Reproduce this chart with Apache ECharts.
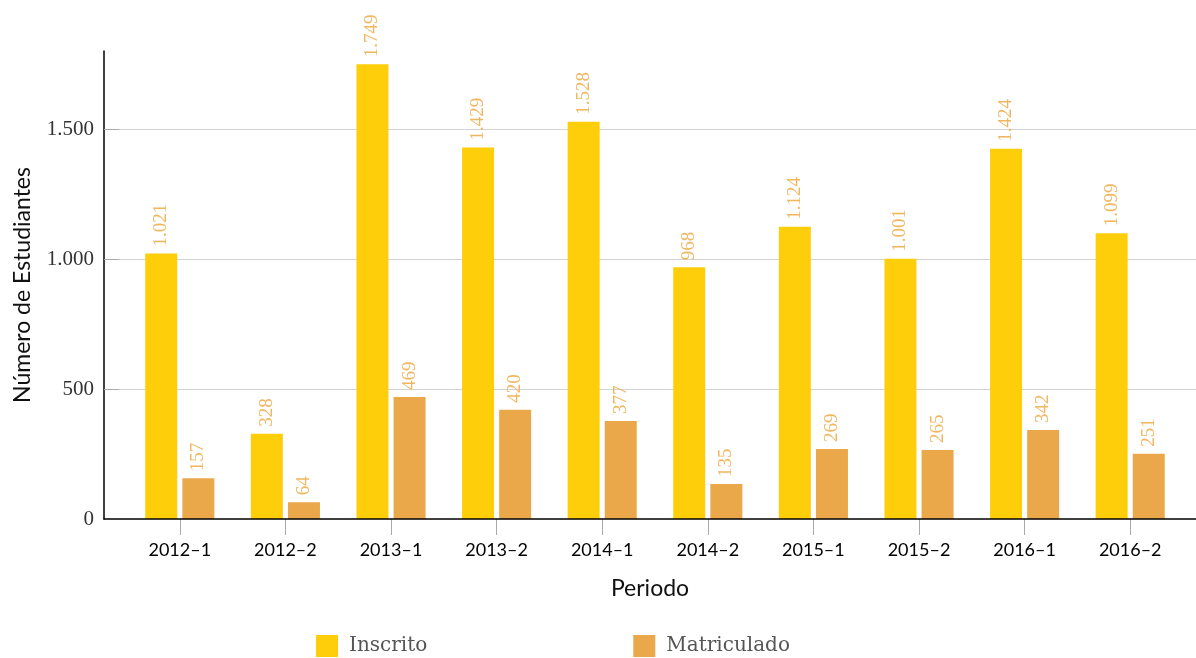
<!DOCTYPE html>
<html>
<head>
<meta charset="utf-8">
<script src="https://cdn.jsdelivr.net/npm/echarts@6/dist/echarts.min.js"></script>
<style>html,body{margin:0;padding:0;background:#fff}#c{width:1196px;height:658px}</style>
</head>
<body>
<div id="c"></div>
<script>
var categories = ['2012–1','2012–2','2013–1','2013–2','2014–1','2014–2','2015–1','2015–2','2016–1','2016–2'];
var inscrito = [1021, 328, 1749, 1429, 1528, 968, 1124, 1001, 1424, 1099];
var matriculado = [157, 64, 469, 420, 377, 135, 269, 265, 342, 251];
var yTicks = [0, 500, 1000, 1500];
var yMax = 1800;

function fmt(v){ return String(v).replace(/\B(?=(\d{3})+(?!\d))/g, '.'); }

var chart = echarts.init(document.getElementById('c'));
var labelStyle = {
  show: true, position: 'top', rotate: 90, align: 'left', verticalAlign: 'middle',
  distance: 7, color: '#F0B760', fontFamily: 'Liberation Serif', fontSize: 19,
  formatter: function(p){ return fmt(p.value); }
};
chart.setOption({
  animation: false,
  grid: [
    {left: 104, right: 0, top: 51, bottom: 139},
    {left: 127, right: 13, top: 51, bottom: 139}
  ],
  xAxis: [
    {type: 'value', gridIndex: 0, min: 0, max: 1, show: true, z: 5,
     axisLine: {show: true, onZero: false, lineStyle: {color: '#000', width: 1.5}},
     axisTick: {show: false}, axisLabel: {show: false}, splitLine: {show: false},
     name: 'Periodo', nameLocation: 'middle', nameGap: 58,
     nameTextStyle: {fontFamily: 'Lato', fontSize: 23, color: '#111'}},
    {type: 'category', gridIndex: 1, data: categories,
     axisLine: {show: false},
     axisTick: {show: true, alignWithLabel: true, length: 16, lineStyle: {color: '#aaa'}},
     axisLabel: {fontFamily: 'Lato', fontSize: 18, color: '#000', margin: 22}}
  ],
  yAxis: [
    {type: 'value', gridIndex: 0, min: 0, max: yMax,
     axisLine: {show: true, lineStyle: {color: '#000', width: 1.5}},
     axisTick: {show: true, inside: true, length: 15, customValues: yTicks.slice(1), lineStyle: {color: '#aaa'}},
     axisLabel: {customValues: yTicks, fontFamily: 'Liberation Serif', fontSize: 21, color: '#333', margin: 10,
                 formatter: function(v){ return fmt(v); }},
     splitLine: {show: true, lineStyle: {color: '#d3d3d3'}},
     name: 'Número de Estudiantes', nameLocation: 'middle', nameRotate: 90, nameGap: 70,
     nameTextStyle: {fontFamily: 'Lato', fontSize: 23, color: '#111'}},
    {type: 'value', gridIndex: 1, min: 0, max: yMax, show: false, splitLine: {show: false}}
  ],
  legend: {
    left: 316, top: 635, padding: 0, itemWidth: 22, itemHeight: 22, itemGap: 206, icon: 'rect',
    textStyle: {fontFamily: 'DejaVu Serif', fontSize: 20, color: '#555', padding: [0,0,0,6]},
    data: ['Inscrito', 'Matriculado']
  },
  series: [
    {name: 'Inscrito', type: 'bar', xAxisIndex: 1, yAxisIndex: 1, data: inscrito,
     barWidth: 32, barGap: '16%', itemStyle: {color: '#FECE0A'}, label: labelStyle},
    {name: 'Matriculado', type: 'bar', xAxisIndex: 1, yAxisIndex: 1, data: matriculado,
     barWidth: 32, barGap: '16%', itemStyle: {color: '#EBA84A'}, label: labelStyle}
  ]
});
</script>
</body>
</html>
